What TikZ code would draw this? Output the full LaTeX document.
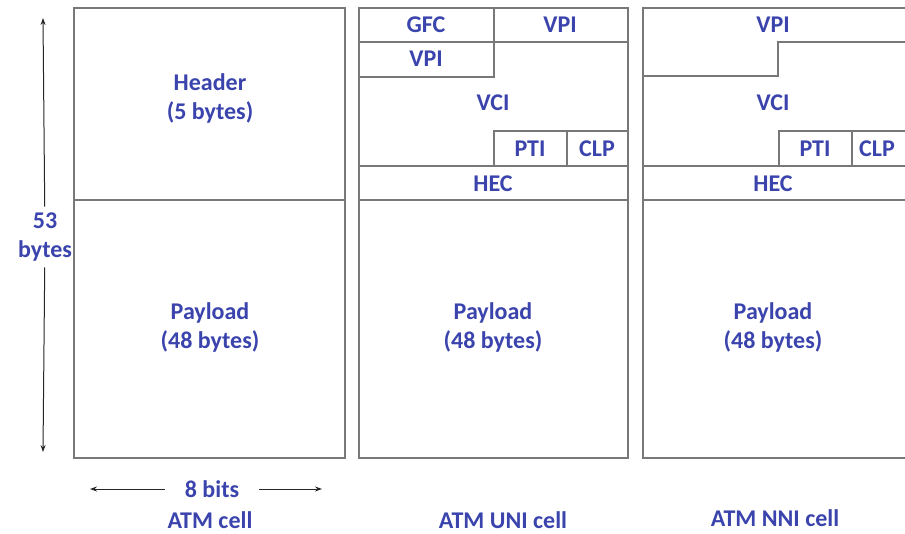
\documentclass[tikz,border=0pt]{standalone}
\usepackage{fontspec}
\setmainfont{Carlito}
\usepackage{xcolor}
\usepackage{tikz}
\usetikzlibrary{arrows.meta, positioning}
\definecolor{atmblue}{RGB}{58,68,172}
\definecolor{cellgray}{RGB}{120,120,120}

\begin{document}
\begin{tikzpicture}[
  x=1pt, y=-1pt,
  >={Stealth[length=7pt, width=5pt]},
  cellline/.style={draw=cellgray, line width=1.4pt},
  field/.style={font=\bfseries\fontsize{24}{29}\selectfont, text=atmblue, align=center, inner sep=2pt},
  dimarrow/.style={->, line width=1pt, draw=black!85},
]
  \useasboundingbox (0,0) rectangle (905,533);

  % plain cell
  \draw[cellline] (74,8) rectangle (345,458);
  \draw[cellline] (74,200) -- (345,200);
  \node[field] (hdr) at (210,98) {Header\\(5 bytes)};
  \node[field] (pl1) at (210,327) {Payload\\(48 bytes)};

  % UNI cell
  \draw[cellline] (359,8) rectangle (628,458);
  \draw[cellline] (359,42) -- (628,42);
  \draw[cellline] (494,8) -- (494,77) -- (359,77);
  \draw[cellline] (494,166) -- (494,131) -- (628,131);
  \draw[cellline] (567,131) -- (567,166);
  \draw[cellline] (359,166) -- (628,166);
  \draw[cellline] (359,200) -- (628,200);
  \node[field] (gfc)  at (426,25)  {GFC};
  \node[field] (vpia) at (560,25)  {VPI};
  \node[field] (vpib) at (426,59)  {VPI};
  \node[field] (vci2) at (493,103) {VCI};
  \node[field] (pti2) at (530,149) {PTI};
  \node[field] (clp2) at (597,149) {CLP};
  \node[field] (hec2) at (493,184) {HEC};
  \node[field] (pl2)  at (493,327) {Payload\\(48 bytes)};

  % NNI cell (cut at the right edge)
  \draw[cellline] (906,8) -- (643,8) -- (643,458) -- (906,458);
  \draw[cellline] (643,76) -- (778,76) -- (778,42) -- (906,42);
  \draw[cellline] (779,166) -- (779,131) -- (906,131);
  \draw[cellline] (852,131) -- (852,166);
  \draw[cellline] (643,166) -- (906,166);
  \draw[cellline] (643,200) -- (906,200);
  \node[field] (vpi3) at (773,25)  {VPI};
  \node[field] (vci3) at (773,103) {VCI};
  \node[field] (pti3) at (815,149) {PTI};
  \node[field] (clp3) at (877,149) {CLP};
  \node[field] (hec3) at (773,184) {HEC};
  \node[field] (pl3)  at (773,327) {Payload\\(48 bytes)};

  % dimensions
  \node[field, inner sep=6pt] (len) at (45,237) {53\\bytes};
  \coordinate (lentop) at (43,18);
  \coordinate (lenbot) at (43,452);
  \draw[dimarrow] (len) -- (lentop);
  \draw[dimarrow] (len) -- (lenbot);

  \node[field, inner xsep=20pt] (wid) at (212,489) {8 bits};
  \coordinate (widl) at (90,489);
  \coordinate (widr) at (322,489);
  \draw[dimarrow] (wid) -- (widl);
  \draw[dimarrow] (wid) -- (widr);

  % captions
  \node[field] (cap1) at (210,520) {ATM cell};
  \node[field] (cap2) at (503,520) {ATM UNI cell};
  \node[field] (cap3) at (775,518) {ATM NNI cell};
\end{tikzpicture}
\end{document}
